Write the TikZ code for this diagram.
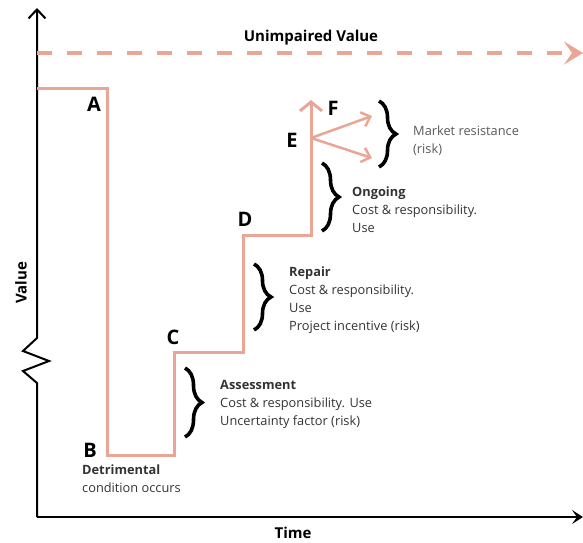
\documentclass[tikz,border=0pt]{standalone}
\usepackage{fontspec}
\setmainfont{Open Sans}
\usetikzlibrary{positioning, arrows.meta}
\usetikzlibrary{decorations.pathreplacing}
\definecolor{salmon}{RGB}{234,166,148}

\begin{document}
\begin{tikzpicture}[x=1pt,y=-1pt,every node/.style={inner sep=0pt},
	letter/.style={font=\fontsize{20}{22}\selectfont\bfseries},
	axislabel/.style={font=\fontsize{15}{17}\selectfont\bfseries},
	note/.style={anchor=north west,align=left,text=black!80,font=\fontsize{12.8}{18}\selectfont},
	bracket/.style={draw,line width=3.6pt,decorate,decoration={brace,amplitude=17pt}},
	stepline/.style={salmon,line width=3pt},
	axis/.style={line width=2pt},]
	    \useasboundingbox (0,0) rectangle (583,542);
	    % axes
	    \coordinate (origin) at (37,517);
	    \draw[axis,-{Straight Barb[length=9pt,width=17pt,line width=2pt]}] (origin) -- (37,383) -- (23,371) -- (49,361) -- (23,351) -- (37,338) -- (37,8);
	    \draw[axis,-{Stealth[length=11pt,width=14pt,inset=5pt]}] (origin) -- (583,517);
	    \node[axislabel] (time) at (293,533) {Time};
	    \node[axislabel,rotate=90] (value) at (21,283) {Value};
	    % unimpaired value
	    \draw[salmon,line width=4.5pt,dash pattern=on 15pt off 15pt,-{Stealth[length=19pt,width=23pt,inset=8pt]}] (37,53) -- (583,53);
	    \node[axislabel] (unimpaired) at (311,38) {Unimpaired Value};
	    % the value steps
	    \coordinate (pA) at (107,88);
	    \coordinate (pB) at (107,455);
	    \coordinate (pC) at (174,352);
	    \coordinate (pD) at (243,235);
	    \coordinate (pE) at (311,138);
	    \draw[stepline] (37,88) -- (pA) -- (pB) -| (pC) -| (pD) -| (pE);
	    \draw[stepline,-{Straight Barb[length=9pt,width=22pt,line width=3pt]}] (pE) -- (311,100);
	    \coordinate (f1) at (372,116);
	    \coordinate (f2) at (372,158);
	    \draw[stepline,line width=2.5pt,-{Straight Barb[length=8pt,width=15pt]}] (pE) -- (f1);
	    \draw[stepline,line width=2.5pt,-{Straight Barb[length=8pt,width=15pt]}] (pE) -- (f2);
	    % letters
	    \node[letter] (a) at (94,104) {A};
	    \node[letter] (b) at (90,450) {B};
	    \node[letter] (c) at (173,337) {C};
	    \node[letter] (d) at (245,219) {D};
	    \node[letter] (e) at (292,140) {E};
	    \node[letter] (f) at (333,108) {F};
	    % brackets and notes
	    \draw[bracket] (379,101) -- (379,167);
	    \node[note,text=black!65] (market) at (413,126) {Market resistance\\(risk)};
	    \draw[bracket] (322,163) -- (322,231);
	    \node[note] (ongoing) at (352,187) {\textbf{Ongoing}\\Cost \& responsibility.\\Use};
	    \draw[bracket] (254,264) -- (254,330);
	    \node[note] (repair) at (289,267) {\textbf{Repair}\\Cost \& responsibility.\\Use\\Project incentive (risk)};
	    \draw[bracket] (185,368) -- (185,437);
	    \node[note] (assessment) at (220,380) {\textbf{Assessment}\\Cost \& responsibility. Use\\Uncertainty factor (risk)};
	    \node[note] (detrimental) at (82,465) {\textbf{Detrimental}\\condition occurs};
		\end{tikzpicture}
\end{document}
